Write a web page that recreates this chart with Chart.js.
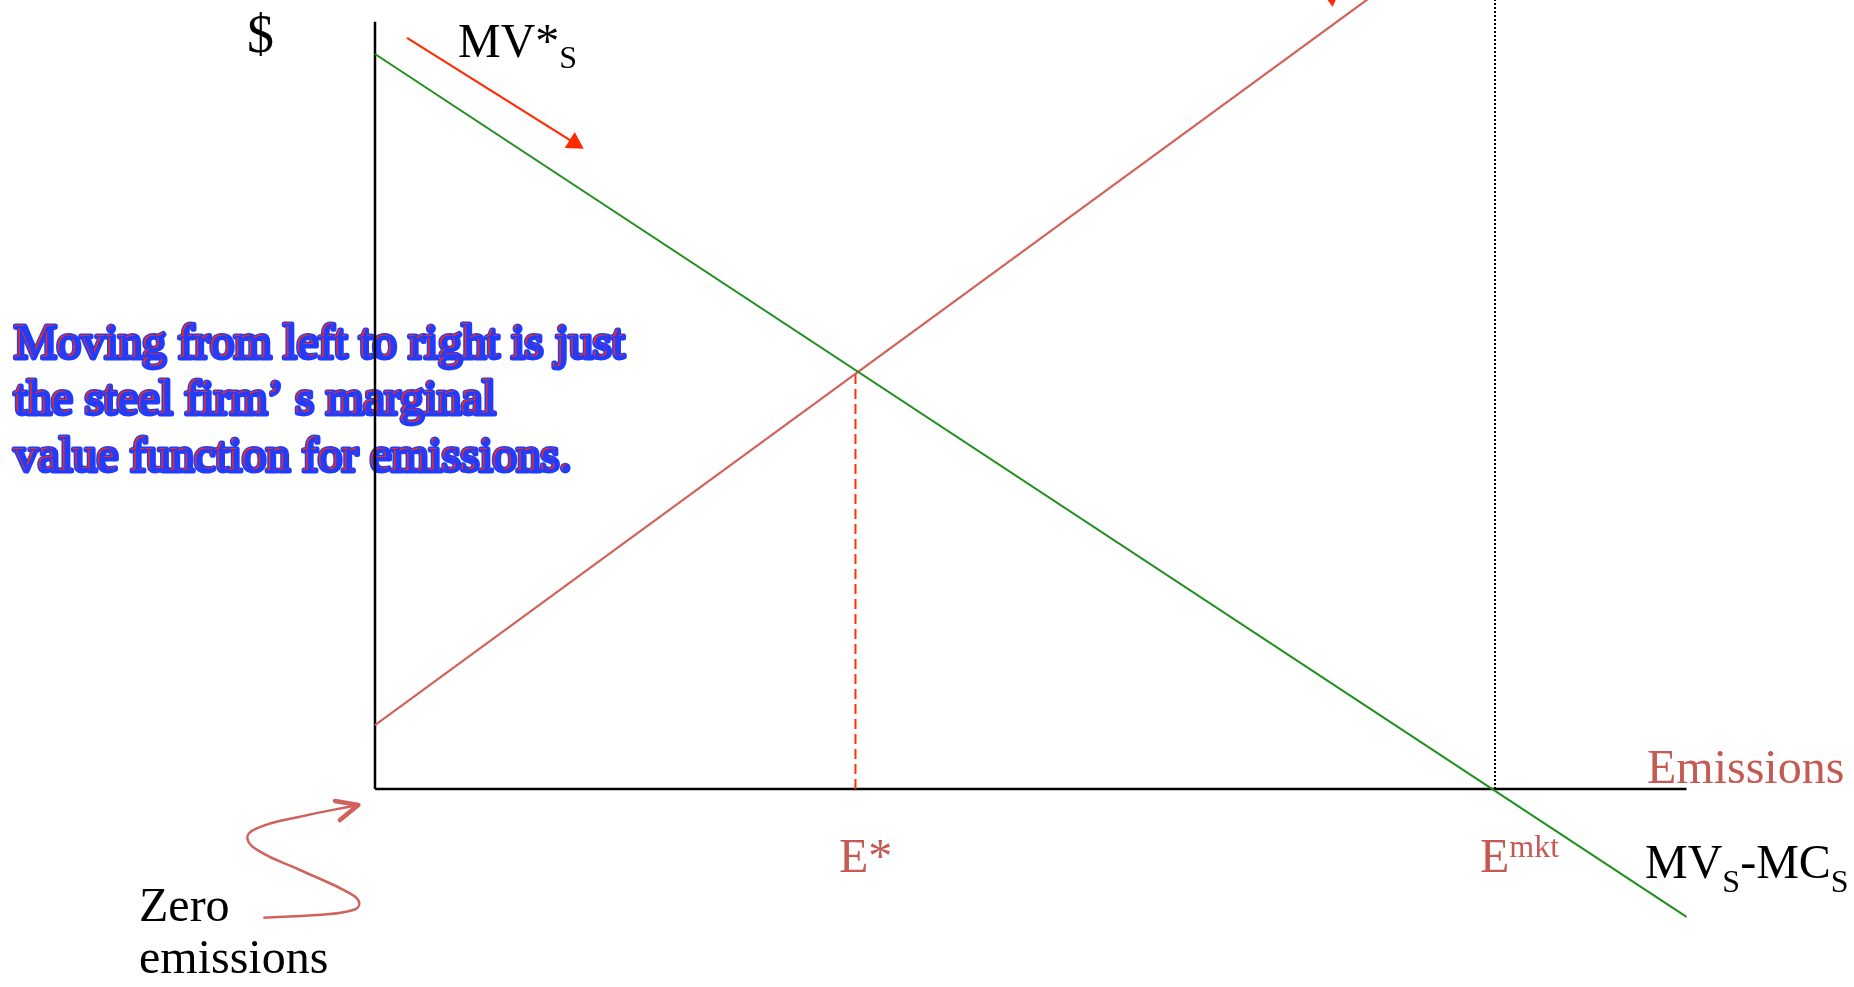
<!DOCTYPE html>
<html>
<head>
<meta charset="utf-8">
<script src="https://cdn.jsdelivr.net/npm/chart.js@4"></script>
<style>
  html, body { margin: 0; padding: 0; background: #fff; overflow: hidden; }
</style>
</head>
<body>
<canvas id="chart" width="1854" height="987"></canvas>
<script>
// Values (x = emissions, y = $)
const axisEndX = 117.1;
const axisTopY = 104.4;

// MVs - MCs (green, falling)
const mvmcX = [0, 117.1];
const mvmcY = [100, -17.4];

// rising salmon line
const mcX = [0, 92];
const mcY = [8.7, 111.2];

// E* and E^mkt
const eStar = 42.9;
const eStarPrice = 56.5;
const eMkt = 100;

// red arrow next to MV*s
const arrowX = [2.86, 17.8];
const arrowY = [102.2, 87.9];

// curly "zero emissions" arrow
const curlX = [-9.97, -5.21, -1.94, -1.40, -2.23, -6.70, -10.27, -11.40, -10.56, -6.70, -1.49];
const curlY = [-17.51, -17.14, -16.46, -15.47, -14.19, -11.02, -8.53, -6.71, -5.35, -3.77, -2.18];
const curlHeadX = [-3.57, -1.49, -3.13];
const curlHeadY = [-1.63, -2.18, -4.22];

// arrowhead cut off at the top edge
const topHeadX = [85.4];
const topHeadY = [107.9];

const pts = (xs, ys) => xs.map((x, i) => ({ x: x, y: ys[i] }));

const SERIF = '"Liberation Serif", "Times New Roman", serif';
const SALMON = '#c55a55';

function label(ctx, text, x, y, size, color) {
    ctx.font = size + 'px ' + SERIF;
    ctx.fillStyle = color;
    ctx.fillText(text, x, y);
    return ctx.measureText(text).width;
}

// draws text runs [text, size, baselineShift] one after another
function runs(ctx, parts, x, y, color) {
    let cx = x;
    parts.forEach(p => {
        cx += label(ctx, p[0], cx, y + p[2], p[1], color);
    });
}

const notesPlugin = {
    id: 'notes',
    beforeDatasetsDraw(chart) {
        const ctx = chart.ctx;
        const lines = [
            'Moving from left to right is just',
            'the steel firm\u2019 s marginal',
            'value function for emissions.'
        ];
        const base = [357, 413, 470];
        ctx.save();
        ctx.font = '48px ' + SERIF;
        ctx.lineJoin = 'round';
        lines.forEach((t, i) => {
            const x = 13, y = base[i];
            ctx.strokeStyle = '#1f3cff';
            ctx.lineWidth = 5;
            ctx.strokeText(t, x + 1, y + 1);
            ctx.fillStyle = '#ff2a00';
            ctx.fillText(t, x, y);
            ctx.fillStyle = '#1f3cff';
            ctx.fillText(t, x + 1.5, y + 1);
        });
        ctx.restore();
    },
    afterDatasetsDraw(chart) {
        const ctx = chart.ctx;
        ctx.save();
        ctx.textBaseline = 'alphabetic';
        label(ctx, '$', 247, 52, 54, '#000');
        runs(ctx, [['MV*', 48, 0], ['S', 32, 11]], 458, 57, '#000');
        label(ctx, 'Emissions', 1647, 783, 48, SALMON);
        label(ctx, 'E*', 839, 872, 48, SALMON);
        runs(ctx, [['E', 48, 0], ['mkt', 32, -15]], 1480, 872, SALMON);
        runs(ctx, [['MV', 48, 0], ['S', 32, 14], ['-MC', 48, 0], ['S', 32, 14]], 1645, 878, '#000');
        label(ctx, 'Zero', 139, 921, 48, '#000');
        label(ctx, 'emissions', 139, 973, 48, '#000');
        ctx.restore();
    }
};

const line = (data, color, width, extra) => Object.assign({
    data: data,
    showLine: true,
    borderColor: color,
    backgroundColor: color,
    borderWidth: width,
    pointRadius: 0,
    tension: 0
}, extra || {});

new Chart(document.getElementById('chart'), {
    type: 'scatter',
    data: {
        datasets: [
            line(pts(mvmcX, mvmcY), '#1d8f1d', 2),
            line(pts(mcX, mcY), '#d0625d', 2.2),
            line(pts([eStar, eStar], [0, eStarPrice]), '#ff3300', 2, { borderDash: [10, 5] }),
            line(pts([eMkt, eMkt], [0, 112]), '#000', 2, { borderDash: [2, 2] }),
            line(pts([0, axisEndX], [0, 0]), '#000', 2.5),
            line(pts([0, 0], [0, axisTopY]), '#000', 2.5),
            line(pts(arrowX, arrowY), '#ff2a00', 2.2),
            line(pts(arrowX.slice(1), arrowY.slice(1)), '#ff2a00', 0, {
                showLine: false, pointStyle: 'triangle', pointRadius: 11, rotation: 122, clip: false
            }),
            line(pts(topHeadX, topHeadY), '#ff2a00', 0, {
                showLine: false, pointStyle: 'triangle', pointRadius: 11, rotation: 54, clip: false
            }),
            line(pts(curlX, curlY), '#d0625d', 2.5, { tension: 0.45, clip: false }),
            line(pts(curlHeadX, curlHeadY), '#d0625d', 4.5, { clip: false, borderCapStyle: 'round', borderJoinStyle: 'round' })
        ]
    },
    options: {
        responsive: false,
        animation: false,
        devicePixelRatio: 1,
        layout: { padding: 0, autoPadding: false },
        plugins: { legend: { display: false }, tooltip: { enabled: false } },
        scales: {
            x: { type: 'linear', display: false, min: -33.482, max: 132.054 },
            y: { type: 'linear', display: false, min: -26.939, max: 107.347 }
        }
    },
    plugins: [notesPlugin]
});
</script>
</body>
</html>
